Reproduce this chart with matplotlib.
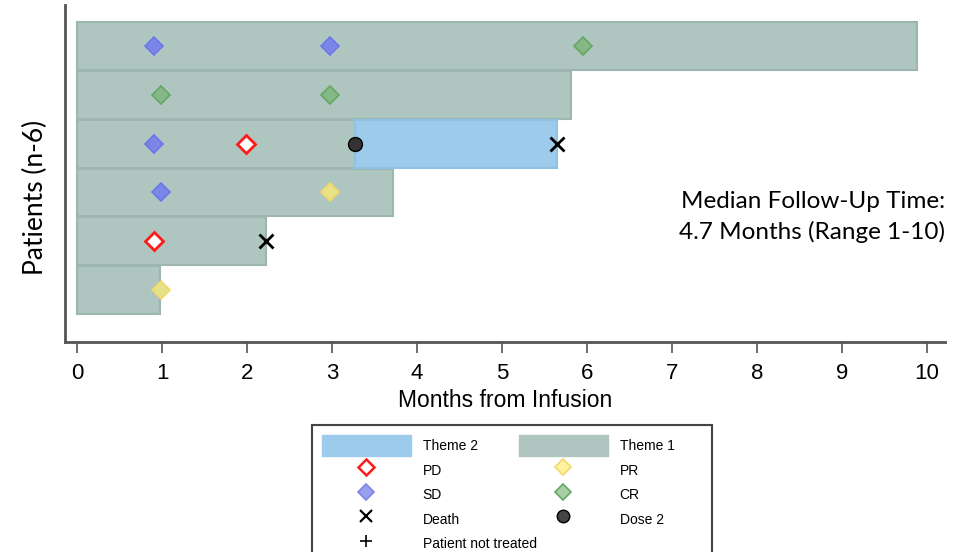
import matplotlib
matplotlib.use("Agg")
import matplotlib.pyplot as plt
from matplotlib.patches import Patch, Rectangle
from matplotlib.lines import Line2D

# ---- data ----
patients = [6, 5, 4, 3, 2, 1]            # row position (top = 6)
theme1_end = [9.88, 5.81, 3.27, 3.72, 2.22, 0.98]
theme2_start = [None, None, 3.27, None, None, None]
theme2_end = [None, None, 5.65, None, None, None]

sd_x = [0.9, 2.98, 0.9, 0.99]
sd_y = [6, 6, 4, 3]
cr_x = [5.95, 0.99, 2.98]
cr_y = [6, 5, 5]
pd_x = [1.99, 0.9]
pd_y = [4, 2]
pr_x = [2.98, 0.99]
pr_y = [3, 1]
death_x = [5.65, 2.22]
death_y = [4, 2]
dose2_x = [3.27]
dose2_y = [4]

xticks = list(range(0, 11))

C_T1 = "#afc5bf"
C_T1E = "#9db7b0"
C_T2 = "#9ccbeb"

fig = plt.figure(figsize=(9.63, 5.52), dpi=100)
ax = fig.add_axes([65/963, 1-342/552, (945-65)/963, (342-5)/552])

h = 0.98
for y, e in zip(patients, theme1_end):
    ax.barh(y, e, height=h, left=0, color=C_T1, edgecolor=C_T1E, linewidth=1.5, zorder=1)
for y, s, e in zip(patients, theme2_start, theme2_end):
    if s is not None:
        ax.barh(y, e - s, height=h, left=s, color=C_T2, edgecolor="#8fc2e6", linewidth=1.5, zorder=1)

ms = 9
ax.plot(sd_x, sd_y, ls="none", marker="D", ms=ms, mfc="#7b86e6", mec="#6a77e8", mew=1.2, zorder=3)
ax.plot(cr_x, cr_y, ls="none", marker="D", ms=ms, mfc="#86b886", mec="#64a864", mew=1.2, zorder=3)
ax.plot(pd_x, pd_y, ls="none", marker="D", ms=ms, mfc="white", mec="#ff1a1a", mew=2, zorder=3)
ax.plot(pr_x, pr_y, ls="none", marker="D", ms=ms, mfc="#e6e28a", mec="#f2d668", mew=1.2, zorder=3)
ax.plot(death_x, death_y, ls="none", marker="x", ms=10, mec="black", mew=2, zorder=4)
ax.plot(dose2_x, dose2_y, ls="none", marker="o", ms=10, mfc="#333333", mec="black", mew=1, zorder=4)

ax.set_xlim(-12/85, (945-77)/85)
ax.set_ylim(1 - 52/49, 6 + 41/49)
ax.set_xticks(xticks)
ax.set_yticks([])
for s in ["top", "right"]:
    ax.spines[s].set_visible(False)
for s in ["left", "bottom"]:
    ax.spines[s].set_color("#555555")
    ax.spines[s].set_linewidth(2)
ax.tick_params(axis="x", direction="out", length=8, width=1.2, color="#555555",
               labelsize=16, pad=7)
for lab in ax.get_xticklabels():
    lab.set_fontfamily("Liberation Sans")
ax.set_xlabel("Months from Infusion", fontsize=16.5, family="Liberation Sans", labelpad=4)
fig.text(35/963, 1-197/552, "Patients (n-6)", rotation=90, ha="center", va="center",
         fontsize=19, family="Lato")

fig.text(945/963, 1-217/552, "Median Follow-Up Time:\n4.7 Months (Range 1-10)",
         ha="right", va="center", fontsize=17.5, family="Lato", linespacing=1.45)

# ---- legend ----
frame = Rectangle((312/963, 1-560/552), (712-312)/963, (560-425)/552, transform=fig.transFigure,
                  facecolor="white", edgecolor="#444444", linewidth=1.5, zorder=5)
fig.add_artist(frame)

lfs = 10
h_t2 = Patch(facecolor=C_T2, edgecolor=C_T2)
h_t1 = Patch(facecolor=C_T1, edgecolor=C_T1)
h_pd = Line2D([], [], ls="none", marker="D", ms=8, mfc="white", mec="#ff1a1a", mew=1.8)
h_pr = Line2D([], [], ls="none", marker="D", ms=8, mfc="#fff3a0", mec="#f2d668", mew=1.2)
h_sd = Line2D([], [], ls="none", marker="D", ms=8, mfc="#9aa0f0", mec="#7b86e6", mew=1.2)
h_cr = Line2D([], [], ls="none", marker="D", ms=8, mfc="#a8d0a8", mec="#64a864", mew=1.2)
h_de = Line2D([], [], ls="none", marker="x", ms=8, mec="black", mew=1.6)
h_d2 = Line2D([], [], ls="none", marker="o", ms=9, mfc="#444444", mec="black")
h_nt = Line2D([], [], ls="none", marker="+", ms=9, mec="black", mew=1.2)

kw = dict(frameon=False, handlelength=6.4, handleheight=2.0,
          labelspacing=0.22, handletextpad=0.85, borderpad=0,
          prop={"family": "Liberation Sans", "size": lfs})
leg1 = fig.legend([h_t2, h_pd, h_sd, h_de, h_nt],
                  ["Theme 2", "PD", "SD", "Death", "Patient not treated"],
                  loc="upper left", bbox_to_anchor=(315/963, 1-428/552), **kw)
leg2 = fig.legend([h_t1, h_pr, h_cr, h_d2],
                  ["Theme 1", "PR", "CR", "Dose 2"],
                  loc="upper left", bbox_to_anchor=(512/963, 1-428/552), **kw)
leg1.set_zorder(6)
leg2.set_zorder(6)

fig.savefig("out.png", dpi=100)
